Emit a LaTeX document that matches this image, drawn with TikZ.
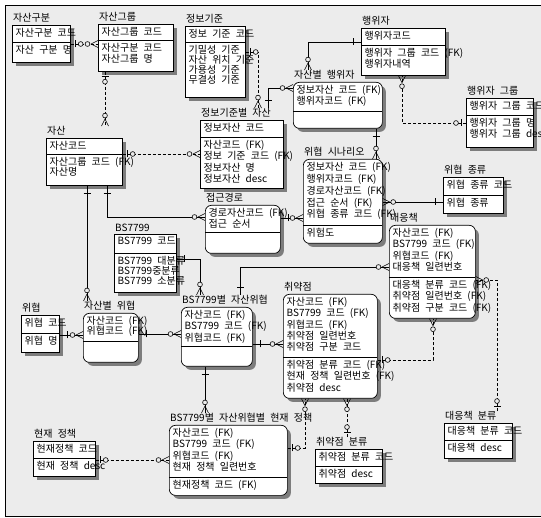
\documentclass[tikz,border=0pt]{standalone}
\usepackage{fontspec}
\setmainfont{Noto Sans CJK KR}[WordSpace=2.3]
\usetikzlibrary{shadows,decorations.markings}
\definecolor{bgc}{RGB}{236,236,236}
\definecolor{shc}{RGB}{125,125,125}
\newcommand{\fs}{\fontsize{10pt}{11.3pt}\selectfont}
% entity box: name, style, x, y, width, height, divider offset, title, key lines
\newcommand{\erbox}[9]{%
  \node[#2, minimum width=#5pt, minimum height=#6pt] (#1) at (#3,#4) {};
  \draw[line width=0.7pt] (#1.north west) ++(0,#7) -- ++(#5,0);
  \node[ttl] (#1-t) at (#1.north west) {#8};
  \node[fld] (#1-k) at ([xshift=3.5pt, yshift=-3.2pt]#1.north west) {#9};
}
% non-key attributes under the divider
\newcommand{\erattr}[3]{%
  \node[fld] (#1-a) at ([xshift=3.5pt, yshift=-#2pt-3.2pt]#1.north west) {#3};
}

\begin{document}
\begin{tikzpicture}[x=1pt, y=-1pt,
  ent/.style={draw, line width=0.7pt, fill=white, anchor=north west, inner sep=0pt,
    drop shadow={shadow xshift=3.5pt, shadow yshift=-3.5pt, fill=shc, opacity=1}},
  dep/.style={ent, rounded corners=6pt},
  ttl/.style={anchor=south west, inner sep=0pt, xshift=1pt, yshift=2.5pt, font=\fs},
  fld/.style={anchor=north west, inner sep=0pt, align=left, font=\fs},
  rel/.style={line width=0.7pt},
  nid/.style={rel, dash pattern=on 3pt off 2pt},
  tomany/.style={postaction={decorate, decoration={markings, mark=at position 1 with {
      \draw[solid, line width=0.6pt] (-7pt,0) -- (0,3.5pt) (-7pt,0) -- (0,-3.5pt);
      \draw[solid, line width=0.6pt, fill=bgc] (-10.5pt,0) circle (2.4pt);}}}},
  fromone/.style={postaction={decorate, decoration={markings, mark=at position 0 with {
      \draw[solid, line width=0.6pt] (8pt,-3.5pt) -- (8pt,3.5pt);}}}},
  fromzero/.style={postaction={decorate, decoration={markings, mark=at position 0 with {
      \draw[solid, line width=0.6pt] (5pt,-3.5pt) -- (5pt,3.5pt);
      \draw[solid, line width=0.6pt, fill=bgc] (10pt,0) circle (2.4pt);}}}}]
  \useasboundingbox (0,0) rectangle (541,518);
  \clip (0,0) rectangle (541,518);
  \fill[white] (0,0) rectangle (541,518);
  \fill[bgc] (5,5) rectangle (545,516);
  \draw[line width=0.8pt] (545,5) -- (5,5) -- (5,516) -- (545,516);

  % top row
  \erbox{class}{ent}{12}{25}{58}{37}{17}{자산구분}{자산구분 코드}
  \erattr{class}{17}{자산 구분 명}
  \erbox{agroup}{ent}{98}{24}{75}{47}{16}{자산그룹}{자산그룹 코드}
  \erattr{agroup}{16}{자산구분 코드\\자산그룹 명}
  \erbox{crit}{ent}{185}{26}{60}{71}{16}{정보기준}{정보 기준 코드}
  \erattr{crit}{16}{기밀성 기준\\[-1.3pt]자산 위치 기준\\[-1.3pt]가용성 기준\\[-1.3pt]무결성 기준}
  \erbox{actor}{ent}{361}{28}{84}{47}{17}{행위자}{행위자코드}
  \erattr{actor}{17}{행위자 그룹 코드 (FK)\\행위자내역}
  \erbox{agrp}{ent}{466}{98}{67}{49}{17}{행위자 그룹}{행위자 그룹 코드}
  \erattr{agrp}{17}{행위자 그룹 명\\행위자 그룹 desc}
  \erbox{aactor}{dep}{293}{82}{89}{46}{29}{자산별 행위자}{정보자산 코드 (FK)\\행위자코드 (FK)}

  % middle
  \erbox{asset}{ent}{46}{138}{76}{47}{16}{자산}{자산코드}
  \erattr{asset}{16}{자산그룹 코드 (FK)\\[-1.3pt]자산명}
  \erbox{critasset}{ent}{200}{120}{83}{68}{17}{정보기준별 자산}{정보자산 코드}
  \erattr{critasset}{17}{자산코드 (FK)\\정보 기준 코드 (FK)\\정보자산 명\\정보자산 desc}
  \erbox{scen}{dep}{303}{159}{79}{84}{66}{위협 시나리오}{정보자산 코드 (FK)\\[0.5pt]행위자코드 (FK)\\[0.5pt]경로자산코드 (FK)\\[0.5pt]접근 순서 (FK)\\[0.5pt]위협 종류 코드 (FK)}
  \erattr{scen}{66}{위험도}
  \erbox{route}{dep}{205}{205}{75}{48}{27}{접근경로}{경로자산코드 (FK)\\접근 순서}
  \erbox{ttype}{ent}{443}{177}{60}{36}{18}{위협 종류}{위협 종류 코드}
  \erattr{ttype}{18}{위협 종류}
  \erbox{ctm}{dep}{389}{225}{86}{93}{52}{대응책}{자산코드 (FK)\\BS7799 코드 (FK)\\위협코드 (FK)\\대응책 일련번호}
  \erattr{ctm}{52}{대응책 분류 코드 (FK)\\취약점 일련번호 (FK)\\취약점 구분 코드 (FK)}
  \erbox{bs}{ent}{114}{234}{62}{58}{19}{BS7799}{BS7799 코드}
  \erattr{bs}{19}{BS7799 대분류\\[-1.3pt]BS7799중분류\\[-1.3pt]BS7799 소분류}

  % lower part
  \erbox{threat}{ent}{21}{315}{38}{37}{18}{위협}{위협 코드}
  \erattr{threat}{18}{위협 명}
  \erbox{athreat}{dep}{83}{313}{55}{49}{28}{자산별 위협}{자산코드 (FK)\\[-1.3pt]위협코드 (FK)}
  \erbox{bsthreat}{dep}{181}{307}{71}{59}{39}{BS7799별 자산위협}{자산코드 (FK)\\BS7799 코드 (FK)\\위협코드 (FK)}
  \erbox{vuln}{dep}{283}{294}{94}{104}{63}{취약점}{자산코드 (FK)\\BS7799 코드 (FK)\\위협코드 (FK)\\취약점 일련번호\\취약점 구분 코드}
  \erattr{vuln}{63}{취약점 분류 코드 (FK)\\현재 정책 일련번호 (FK)\\취약점 desc}
  \erbox{ctmcls}{ent}{444}{423}{68}{35}{17}{대응책 분류}{대응책 분류 코드}
  \erattr{ctmcls}{17}{대응책 desc}
  \erbox{vcls}{ent}{315}{449}{67}{34}{17}{취약점 분류}{취약점 분류 코드}
  \erattr{vcls}{17}{취약점 desc}
  \erbox{pol}{dep}{169}{425}{118}{70}{52}{BS7799별 자산위협별 현재 정책}{자산코드 (FK)\\BS7799 코드 (FK)\\위협코드 (FK)\\현재 정책 일련번호}
  \erattr{pol}{52}{현재정책 코드 (FK)}
  \erbox{curpol}{ent}{33}{441}{62}{35}{17}{현재 정책}{현재정책 코드}
  \erattr{curpol}{17}{현재 정책 desc}

  % relationships
  \draw[nid, fromzero, tomany] (class.east |- 0,44) -- (agroup.west |- 0,44);
  \draw[nid, fromzero, tomany] (agroup.south -| 105,0) -- (asset-t.north -| 105,0);
  \draw[nid, fromzero, tomany] (asset.east |- 0,154) -- (critasset.west |- 0,154);
  \draw[rel, fromone, tomany] (asset.south -| 87,0) -- (athreat-t.north -| 87,0);
  \draw[rel, fromone, tomany] (asset.south -| 107,0) |- (route.west |- 0,217);
  \draw[nid, fromzero, tomany] (crit.east |- 0,52) -| (critasset-t.north -| 258,0);
  \draw[rel, fromone, tomany] (critasset-t.north -| 268,0) |- (aactor.west |- 0,88);
  \draw[rel, fromone, tomany] (actor.west |- 0,42) -| (aactor-t.north -| 308,0);
  \draw[nid, fromzero, tomany] (agrp.west |- 0,123) -| (actor.south -| 402,0);
  \draw[rel, fromone, tomany] (aactor.south -| 376,0) -- (scen.north -| 376,0);
  \draw[rel, fromone, tomany] (route.east |- 0,218) -- (scen.west |- 0,218);
  \draw[rel, fromone, tomany] (ttype.west |- 0,202) -- (scen.east |- 0,202);
  \draw[rel, fromone, tomany] (threat.east |- 0,335) -- (athreat.west |- 0,335);
  \draw[rel, fromone, tomany] (athreat.east |- 0,334) -- (bsthreat.west |- 0,334);
  \draw[rel, fromone, tomany] (bs.east |- 0,259) -| (bsthreat-t.north -| 200,0);
  \draw[rel, fromone, tomany] (bsthreat.east |- 0,344) -- (vuln.west |- 0,344);
  \draw[rel, fromone, tomany] (bsthreat-t.north -| 240,0) |- (ctm.west |- 0,267);
  \draw[nid, fromzero, tomany] (vuln.east |- 0,360) -| (ctm.south -| 433,0);
  \draw[nid, fromzero, tomany] (ctmcls-t.north -| 497,0) |- (ctm.east |- 0,280);
  \draw[nid, fromzero, tomany] (vcls-t.north -| 347,0) -- (vuln.south -| 347,0);
  \draw[nid, fromzero, tomany] (pol.east |- 0,448) -| (vuln.south -| 305,0);
  \draw[rel, fromone, tomany] (bsthreat.south -| 205,0) -- (pol-t.north -| 205,0);
  \draw[nid, fromzero, tomany] (curpol.east |- 0,460) -- (pol.west |- 0,460);
\end{tikzpicture}
\end{document}
